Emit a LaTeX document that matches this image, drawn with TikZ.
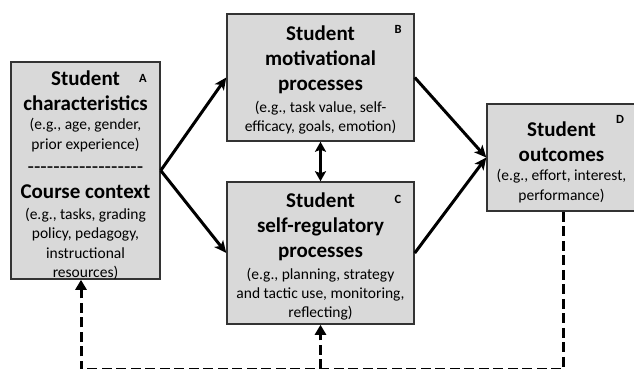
\documentclass[tikz,border=0pt]{standalone}
\usepackage{fontspec}
\setmainfont{Carlito}
\usetikzlibrary{arrows.meta,calc}
\newcommand\hyb{\hbox{-}}
\begin{document}
\begin{tikzpicture}[x=1pt,y=-1pt,
 box/.style={draw=black!80, line width=1.5pt, fill=black!15, inner sep=0pt},
 ttl/.style={font=\fontsize{21}{25}\selectfont\bfseries, align=center, inner sep=0pt},
 sub/.style={font=\fontsize{15.5}{19.3}\selectfont, align=center, inner sep=0pt},
 lbl/.style={font=\fontsize{12.5}{14}\selectfont\bfseries, inner sep=0pt},
 arr/.style={line width=3pt, -{Stealth[length=12pt,width=11pt,inset=3pt]}},
 fb/.style={line width=3pt, dash pattern=on 10pt off 4.5pt},
 fbtip/.style={-{Triangle[length=10pt,width=11pt]}},
]
\useasboundingbox (0,0) rectangle (634,368);
% boxes
\node[box, minimum width=149pt, minimum height=217pt] (A) at (85.5,170.5) {};
\node[box, minimum width=187pt, minimum height=127pt] (B) at (320.5,77.5) {};
\node[box, minimum width=187pt, minimum height=142pt] (C) at (320.5,253) {};
\node[box, minimum width=160pt, minimum height=107pt] (D) at (567,157.5) {};
% box A text
\node[ttl] (At) at (85.5,91) {Student\\characteristics};
\node[sub] (As) at (85.5,135) {(e.g., age, gender,\\prior experience)};
\node[font=\fontsize{21}{25}\selectfont, inner sep=0pt, text height=8pt, text depth=0pt, anchor=base] (Ad) at (85.5,173)
  {\hyb\hyb\hyb\hyb\hyb\hyb\hyb\hyb\hyb\hyb\hyb\hyb\hyb\hyb\hyb\hyb\hyb\hyb};
\node[ttl] (Ac) at (85.5,192) {Course context};
\node[sub] (As2) at (85.5,244) {(e.g., tasks, grading\\policy, pedagogy,\\instructional\\resources)};
\node[lbl] (Al) at (143,78) {A};
% box B text
\node[ttl] (Bt) at (320.5,60) {Student\\motivational\\processes};
\node[sub] (Bs) at (320.5,118) {(e.g., task value, self-\\efficacy, goals, emotion)};
\node[lbl] (Bl) at (398,29) {B};
% box C text
\node[ttl] (Ct) at (320.5,227) {Student\\self-regulatory\\processes};
\node[sub] (Cs) at (320.5,294) {(e.g., planning, strategy\\and tactic use, monitoring,\\reflecting)};
\node[lbl] (Cl) at (398,199) {C};
% box D text
\node[ttl] (Dt) at (561.5,141.5) {Student\\outcomes};
\node[sub] (Ds) at (561.5,186) {(e.g., effort, interest,\\performance)};
\node[lbl] (Dl) at (620,119) {D};
% solid arrows
\draw[arr] (A.east) -- (B.west);
\draw[arr] (A.east) -- (C.west);
\draw[arr] (B.east) -- (D.west);
\draw[arr] (C.east) -- (D.west);
\draw[line width=3pt, {Stealth[length=10pt,width=11pt,inset=2pt]}-{Stealth[length=10pt,width=11pt,inset=2pt]}] (B.south) -- (C.north);
% feedback dashed lines
\coordinate (d0) at ($(D.south)+(-4,0)$);
\coordinate (d1) at ($(d0)+(0,157.5)$);
\coordinate (a0) at ($(A.south)+(-4.5,0)$);
\coordinate (c0) at (C.south);
\draw[fb, fbtip] (d0) -- (d1) -- (d1 -| a0) -- (a0);
\draw[fb, fbtip] (d1 -| c0) -- (c0);
\end{tikzpicture}
\end{document}
